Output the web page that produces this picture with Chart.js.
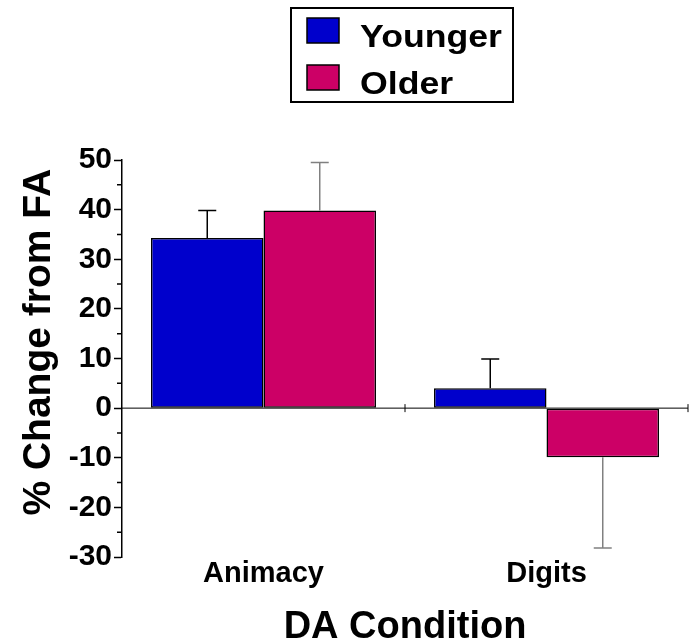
<!DOCTYPE html>
<html lang="en">
<head>
    <meta charset="UTF-8">
    <title>DA Condition</title>
    <script src="https://cdn.jsdelivr.net/npm/chart.js"></script>
    <style>
        body {
            margin: 0;
            background: #fff;
        }
        #wrap {
            width: 698px;
            height: 644px;
        }
    </style>
</head>
<body>
    <div id="wrap">
        <canvas id="chartCanvas" width="698" height="644"></canvas>
    </div>

    <script>
        // data
        const categories = ['Animacy', 'Digits'];
        const younger = [34.3, 4.0];
        const older = [39.8, -9.9];
        const youngerErr = [5.5, 5.9];
        const olderErr = [9.7, 18.3];
        const seriesNames = ['Younger', 'Older'];
        const yMin = -30, yMax = 50, yStep = 10;

        const FONT = "'Liberation Sans', Arial, sans-serif";
        const colors = ['#0000CC', '#CC0066'];
        const errColors = ['#000000', '#808080'];

        // error bars, away from zero only
        const errorBars = {
            id: 'errorBars',
            afterDatasetsDraw(chart) {
                const ctx = chart.ctx;
                const y = chart.scales.y;
                const errs = [youngerErr, olderErr];
                chart.data.datasets.forEach((ds, di) => {
                    const meta = chart.getDatasetMeta(di);
                    meta.data.forEach((bar, i) => {
                        const v = ds.data[i];
                        const e = errs[di][i];
                        const end = v >= 0 ? v + e : v - e;
                        const y0 = y.getPixelForValue(v);
                        const y1 = y.getPixelForValue(end);
                        ctx.save();
                        ctx.strokeStyle = errColors[di];
                        ctx.lineWidth = 1.5;
                        ctx.beginPath();
                        ctx.moveTo(bar.x, y0);
                        ctx.lineTo(bar.x, y1);
                        ctx.moveTo(bar.x - 9, y1);
                        ctx.lineTo(bar.x + 9, y1);
                        ctx.stroke();
                        ctx.restore();
                    });
                });
            }
        };

        // zero line with ticks at category edges, minor y ticks
        const axisExtras = {
            id: 'axisExtras',
            afterDraw(chart) {
                const ctx = chart.ctx;
                const x = chart.scales.x;
                const y = chart.scales.y;
                const area = chart.chartArea;
                const zy = y.getPixelForValue(0);
                ctx.save();
                ctx.strokeStyle = '#000';
                ctx.lineWidth = 1;
                ctx.beginPath();
                ctx.moveTo(area.left, zy);
                ctx.lineTo(area.right, zy);
                for (let i = 0; i < categories.length; i++) {
                    let bx = i < categories.length - 1
                        ? (x.getPixelForValue(i) + x.getPixelForValue(i + 1)) / 2
                        : area.right;
                    ctx.moveTo(bx, zy - 4);
                    ctx.lineTo(bx, zy + 4);
                }
                ctx.stroke();
                // minor ticks
                ctx.lineWidth = 1.5;
                ctx.beginPath();
                for (let v = yMin + yStep / 2; v < yMax; v += yStep) {
                    const py = y.getPixelForValue(v);
                    ctx.moveTo(area.left, py);
                    ctx.lineTo(area.left - 5, py);
                }
                ctx.stroke();
                ctx.restore();
            }
        };

        // boxed legend at the top
        const boxLegend = {
            id: 'boxLegend',
            afterDraw(chart) {
                const ctx = chart.ctx;
                ctx.save();
                ctx.strokeStyle = '#000';
                ctx.lineWidth = 2;
                ctx.strokeRect(291, 8, 222, 94);
                chart.data.datasets.forEach((ds, i) => {
                    const top = 18 + i * 47;
                    ctx.fillStyle = ds.backgroundColor;
                    ctx.fillRect(307, top, 32, 25);
                    ctx.lineWidth = 1.5;
                    ctx.strokeRect(307, top, 32, 25);
                    ctx.fillStyle = '#000';
                    ctx.font = 'bold 31px ' + FONT;
                    ctx.textBaseline = 'alphabetic';
                    ctx.translate(360, top + 29);
                    ctx.scale(1.15, 1);
                    ctx.fillText(ds.label, 0, 0);
                    ctx.setTransform(1, 0, 0, 1, 0, 0);
                });
                ctx.restore();
            }
        };

        const chart = new Chart(document.getElementById('chartCanvas'), {
            type: 'bar',
            data: {
                labels: categories,
                datasets: [
                    { label: seriesNames[0], data: younger, backgroundColor: colors[0] },
                    { label: seriesNames[1], data: older, backgroundColor: colors[1] }
                ].map(d => Object.assign(d, {
                    borderColor: '#000',
                    borderWidth: 1.5,
                    borderSkipped: false,
                    categoryPercentage: 0.795,
                    barPercentage: 1
                }))
            },
            options: {
                responsive: false,
                animation: false,
                layout: { padding: { top: 160, right: 10, bottom: 0, left: 0 } },
                plugins: {
                    legend: { display: false },
                    tooltip: { enabled: false }
                },
                scales: {
                    x: {
                        grid: { display: false, drawTicks: false },
                        border: { display: false },
                        ticks: {
                            color: '#000',
                            padding: 0,
                            font: { family: FONT, size: 29, weight: 'bold' }
                        },
                        title: {
                            display: true,
                            text: 'DA Condition',
                            color: '#000',
                            padding: { top: 0, bottom: -6 },
                            font: { family: FONT, size: 38, weight: 'bold' }
                        },
                        afterFit(s) { s.height = 87; }
                    },
                    y: {
                        min: yMin,
                        max: yMax,
                        ticks: {
                            stepSize: yStep,
                            color: '#000',
                            padding: 2,
                            font: { family: FONT, size: 30, weight: 'bold' }
                        },
                        grid: {
                            drawOnChartArea: false,
                            tickLength: 8,
                            tickColor: '#000',
                            tickWidth: 1.5
                        },
                        border: { display: true, color: '#000', width: 1.5 },
                        title: {
                            display: true,
                            text: '   % Change from FA',
                            color: '#000',
                            padding: { top: 16, bottom: 0 },
                            font: { family: FONT, size: 39, weight: 'bold' }
                        },
                        afterFit(s) { s.width = 122; }
                    }
                }
            },
            plugins: [errorBars, axisExtras, boxLegend]
        });
    </script>
</body>
</html>
